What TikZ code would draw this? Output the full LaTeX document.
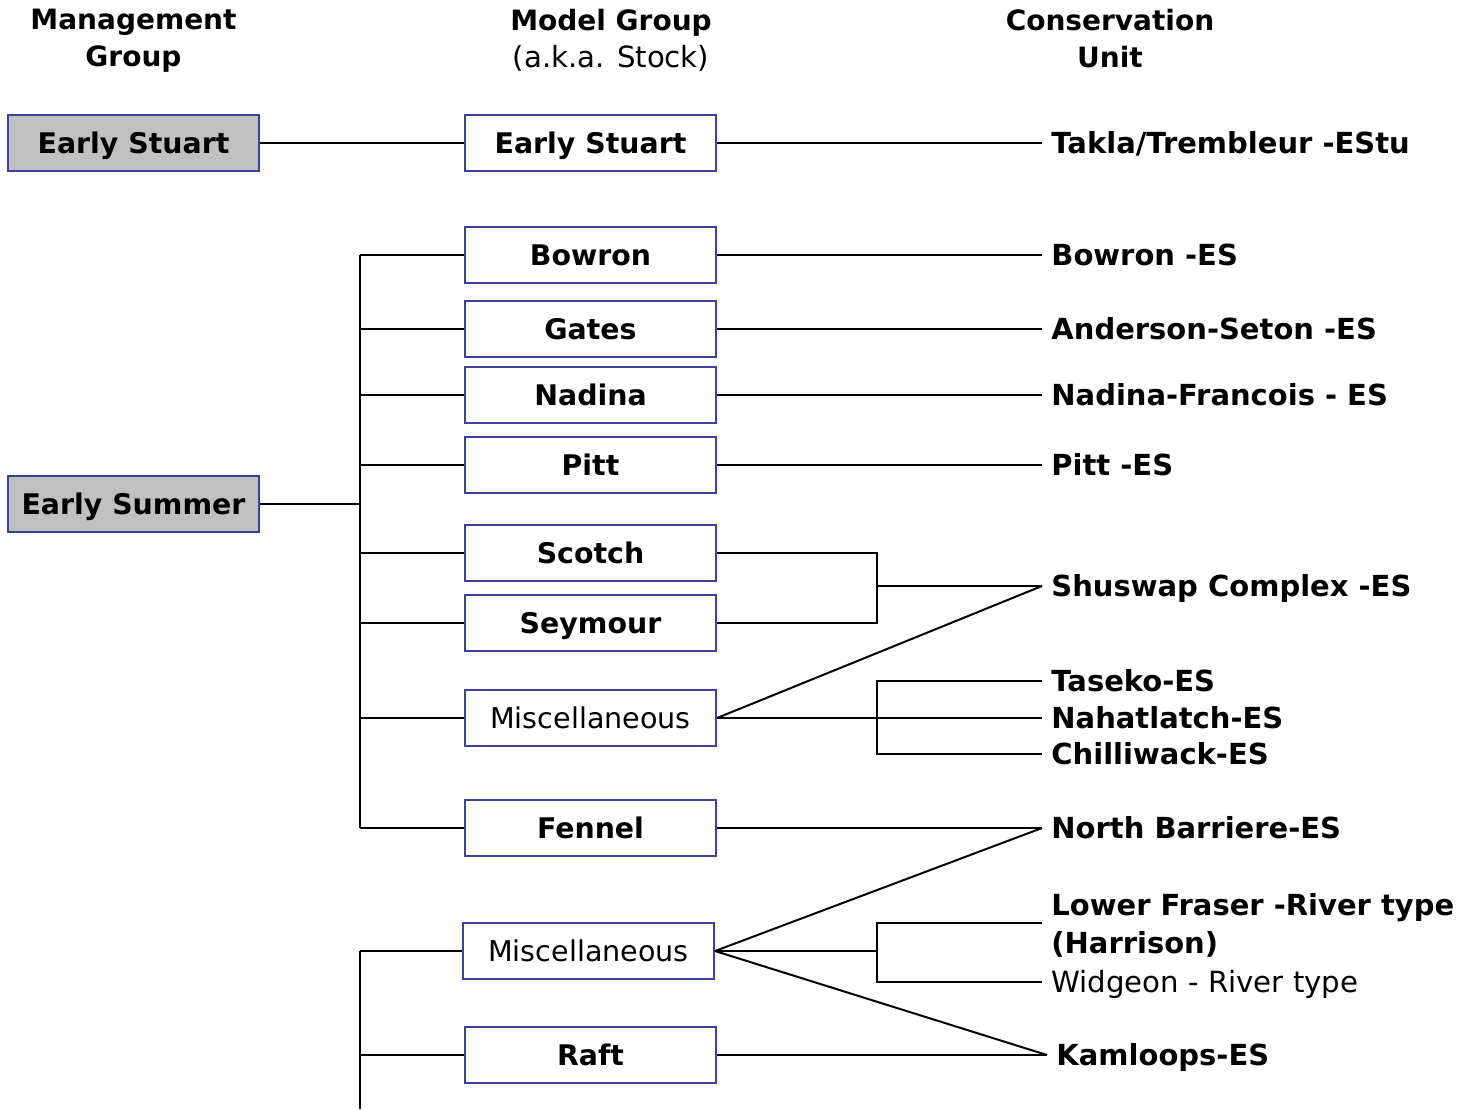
\documentclass[tikz,border=0pt]{standalone}
\usepackage{fontspec}
\setmainfont{DejaVu Sans}
\definecolor{boxblue}{RGB}{64,64,160}
\definecolor{mggray}{RGB}{192,192,192}
\begin{document}
\begin{tikzpicture}[x=0.5pt,y=-0.5pt,
  every node/.style={font=\fontsize{14}{18.5}\selectfont},
  mgbox/.style={draw=boxblue,line width=1pt,fill=mggray,minimum width=125.5pt,minimum height=28pt,inner sep=0pt,text height=10.2pt,text depth=0pt,font=\fontsize{14.2}{18.5}\selectfont\bfseries},
  stockbox/.style={draw=boxblue,line width=1pt,fill=white,minimum width=125.5pt,minimum height=28pt,inner sep=0pt,text height=10.2pt,text depth=0pt,font=\fontsize{14.2}{18.5}\selectfont\bfseries},
  miscbox/.style={stockbox,font=\fontsize{14.3}{18.5}\selectfont},
  culabel/.style={anchor=west,inner ysep=0pt,inner xsep=4.5pt,text height=10.4pt,text depth=0pt,font=\fontsize{14.5}{18.5}\selectfont\bfseries},
  header/.style={align=center,font=\fontsize{14}{18.5}\selectfont\bfseries},
  conn/.style={draw=black,line width=1pt}]
\useasboundingbox (0,0) rectangle (1460,1109);
% headers
\node[header] (h1) at (133.5,41) {Management\\Group};
\node[header] (h2) at (611,40) {Model Group\\\fontsize{14.6}{18.5}\selectfont\mdseries(a.k.a. Stock)};
\node[header] (h3) at (1110,39) {Conservation\\Unit};
% management groups
\node[mgbox] (EStM) at (133.5,143) {Early Stuart};
\node[mgbox] (ESuM) at (133.5,504) {Early Summer};
% model groups
\node[stockbox] (EStS) at (590.5,143) {Early Stuart};
\node[stockbox] (Bowron) at (590.5,255) {Bowron};
\node[stockbox] (Gates) at (590.5,329) {Gates};
\node[stockbox] (Nadina) at (590.5,395) {Nadina};
\node[stockbox] (Pitt) at (590.5,465) {Pitt};
\node[stockbox] (Scotch) at (590.5,553) {Scotch};
\node[stockbox] (Seymour) at (590.5,623) {Seymour};
\node[miscbox] (MiscA) at (590.5,718) {Miscellaneous};
\node[stockbox] (Fennel) at (590.5,828) {Fennel};
\node[miscbox] (MiscB) at (588.5,951) {Miscellaneous};
\node[stockbox] (Raft) at (590.5,1055) {Raft};
% conservation units
\node[culabel] (Takla) at (1042,143) {Takla/Trembleur -EStu};
\node[culabel] (BowronES) at (1042,255) {Bowron -ES};
\node[culabel] (Anderson) at (1042,329) {Anderson-Seton -ES};
\node[culabel] (NadinaF) at (1042,395) {Nadina-Francois - ES};
\node[culabel] (PittES) at (1042,465) {Pitt -ES};
\node[culabel] (Shuswap) at (1042,586) {Shuswap Complex -ES};
\node[culabel] (Taseko) at (1042,681) {Taseko-ES};
\node[culabel] (Nahat) at (1042,718) {Nahatlatch-ES};
\node[culabel] (Chilli) at (1042,754) {Chilliwack-ES};
\node[culabel] (NBarr) at (1042,828) {North Barriere-ES};
\coordinate (lf) at (1042,923);
\node[anchor=north west,inner sep=0pt,align=left,font=\fontsize{14.5}{19}\selectfont\bfseries] (Lower) at (1051,893) {Lower Fraser -River type\\(Harrison)};
\node[culabel,font=\fontsize{14.6}{18.5}\selectfont] (Widgeon) at (1042,982) {Widgeon - River type};
\node[culabel] (Kam) at (1047,1055) {Kamloops-ES};
% junction coordinates
\coordinate (t0) at (360,504);
\coordinate (j1) at (877,586);
\coordinate (j2) at (877,718);
\coordinate (j3) at (877,951);
\coordinate (tb) at (360,1109);
% connectors
\draw[conn] (EStM.east) -- (EStS.west);
\draw[conn] (EStS.east) -- (Takla.west);
\draw[conn] (ESuM.east) -- (t0);
\foreach \n in {Bowron,Gates,Nadina,Pitt,Scotch,Seymour,MiscA,Fennel}
  \draw[conn] (\n.west) -- (\n.west -| t0);
\draw[conn,line width=1.2pt] (Bowron.west -| t0) -- (Fennel.west -| t0);
\draw[conn] (Bowron.east) -- (BowronES.west);
\draw[conn] (Gates.east) -- (Anderson.west);
\draw[conn] (Nadina.east) -- (NadinaF.west);
\draw[conn] (Pitt.east) -- (PittES.west);
\draw[conn] (Scotch.east) -| (j1) |- (Seymour.east);
\draw[conn] (j1) -- (Shuswap.west);
\draw[conn] (MiscA.east) -- (Shuswap.west);
\draw[conn] (MiscA.east) -- (j2);
\draw[conn] (Taseko.west) -| (j2) |- (Chilli.west);
\draw[conn] (j2) -- (Nahat.west);
\draw[conn] (Fennel.east) -- (NBarr.west);
\draw[conn] (MiscB.east) -- (NBarr.west);
\draw[conn] (MiscB.east) -- (j3);
\draw[conn] (lf) -| (j3) |- (Widgeon.west);
\draw[conn] (MiscB.east) -- (Kam.west);
\draw[conn] (Raft.east) -- (Kam.west);
\draw[conn] (MiscB.west) -- (MiscB.west -| t0);
\draw[conn,line width=1.2pt] (MiscB.west -| t0) -- (tb);
\draw[conn] (Raft.west) -- (Raft.west -| t0);
\end{tikzpicture}
\end{document}
